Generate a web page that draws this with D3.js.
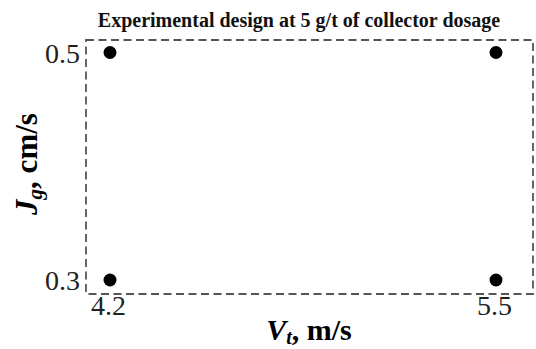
<!DOCTYPE html>
<html><head><meta charset="utf-8">
<script src="https://cdn.jsdelivr.net/npm/d3@7"></script>
<style>html,body{margin:0;padding:0;background:#fff;}svg{display:block;}</style>
</head><body>
<script>
const vt = [4.2, 5.5, 4.2, 5.5];
const jg = [0.5, 0.5, 0.3, 0.3];
const xTicks = [4.2, 5.5];
const yTicks = [0.5, 0.3];
const title = "Experimental design at 5 g/t of collector dosage";

const W = 536, H = 349;
const svg = d3.select("body").append("svg").attr("width", W).attr("height", H);
const box = {l: 86, t: 40, r: 533, b: 294};
const x = d3.scaleLinear().domain([4.2, 5.5]).range([110, 496]);
const y = d3.scaleLinear().domain([0.3, 0.5]).range([280, 52.5]);
const serif = "'Liberation Serif','Times New Roman',serif";

svg.append("rect").attr("x", box.l).attr("y", box.t)
  .attr("width", box.r - box.l).attr("height", box.b - box.t)
  .attr("fill", "none").attr("stroke", "#555").attr("stroke-width", 1.8)
  .attr("stroke-dasharray", "8,4.5");

svg.selectAll("circle.pt").data(vt.map((v, i) => [v, jg[i]])).join("circle")
  .attr("class", "pt").attr("cx", d => x(d[0])).attr("cy", d => y(d[1]))
  .attr("r", 6.5).attr("fill", "#000");

const xAxis = d3.axisBottom(x).tickValues(xTicks).tickSize(0).tickPadding(0).tickFormat(d3.format(".1f"));
const gx = svg.append("g").attr("transform", `translate(0,${box.b})`).call(xAxis);
gx.select(".domain").remove();
gx.selectAll("text").attr("font-family", serif).attr("font-size", 28).attr("fill", "#222")
  .attr("dy", null).attr("y", 21).attr("dx", -2);

const yAxis = d3.axisLeft(y).tickValues(yTicks).tickSize(0).tickPadding(0).tickFormat(d3.format(".1f"));
const gy = svg.append("g").attr("transform", `translate(${box.l - 6},0)`).call(yAxis);
gy.select(".domain").remove();
gy.selectAll("text").attr("font-family", serif).attr("font-size", 28).attr("fill", "#222")
  .attr("dy", "0.34em").attr("x", 0);

svg.append("text").attr("x", 299).attr("y", 27).attr("text-anchor", "middle")
  .attr("font-family", serif).attr("font-weight", "bold").attr("font-size", 20)
  .attr("fill", "#111").text(title);

const xl = svg.append("text").attr("x", 309).attr("y", 340).attr("text-anchor", "middle")
  .attr("font-family", serif).attr("font-weight", "bold").attr("font-size", 30).attr("fill", "#000");
xl.append("tspan").attr("font-style", "italic").text("V");
xl.append("tspan").attr("font-style", "italic").attr("font-size", 20).attr("dy", 4).text("t");
xl.append("tspan").attr("dy", -4).text(", m/s");

const yl = svg.append("text").attr("transform", "translate(37,164) rotate(-90)").attr("text-anchor", "middle")
  .attr("font-family", serif).attr("font-weight", "bold").attr("font-size", 31).attr("fill", "#000");
yl.append("tspan").attr("font-style", "italic").text("J");
yl.append("tspan").attr("font-style", "italic").attr("font-size", 21).attr("dy", 5).text("g");
yl.append("tspan").attr("dy", -5).text(", cm/s");
</script>
</body></html>
